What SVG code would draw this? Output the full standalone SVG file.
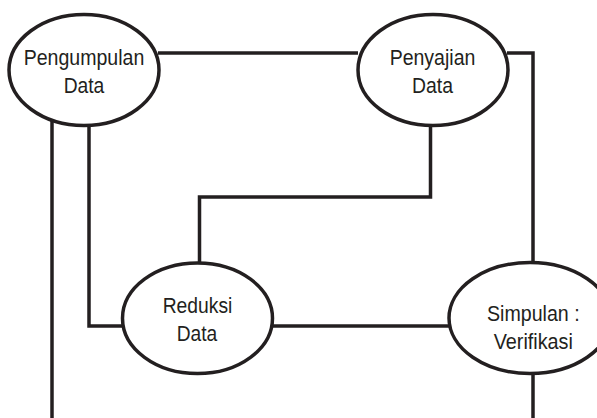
<svg xmlns="http://www.w3.org/2000/svg" width="597" height="418" viewBox="0 0 597 418">
<style>
.node ellipse{fill:#fff;stroke:#231f20;stroke-width:3.5}
.conn path{fill:none;stroke:#231f20;stroke-width:3.5;stroke-linejoin:miter}
text{font-family:"Liberation Sans",Arial,sans-serif;font-size:22px;fill:#231f20;text-anchor:middle}
</style>
<rect width="597" height="418" fill="#fff"/>
<g id="connectors" class="conn">
<path d="M158,53 H358"/>
<path d="M507,53 H533 V263"/>
<path d="M52,118 V418"/>
<path d="M89,124 V326 H123"/>
<path d="M430.5,124 V197 H199.5 V264"/>
<path d="M272,326 H450"/>
<path d="M533,372 V418"/>
</g>
<g id="pengumpulan" class="node">
<ellipse cx="84" cy="70" rx="75" ry="55.5"/>
<text x="84" y="65" textLength="120.7" lengthAdjust="spacingAndGlyphs">Pengumpulan</text>
<text x="84" y="92.5" textLength="40.7" lengthAdjust="spacingAndGlyphs">Data</text>
</g>
<g id="penyajian" class="node">
<ellipse cx="433" cy="70" rx="75" ry="55.5"/>
<text x="432.5" y="65" textLength="85.7" lengthAdjust="spacingAndGlyphs">Penyajian</text>
<text x="432.5" y="92.5" textLength="41" lengthAdjust="spacingAndGlyphs">Data</text>
</g>
<g id="reduksi" class="node">
<ellipse cx="197.5" cy="318.3" rx="75" ry="55.3"/>
<text x="197.5" y="313" textLength="69.7" lengthAdjust="spacingAndGlyphs">Reduksi</text>
<text x="197" y="341.3" textLength="40.6" lengthAdjust="spacingAndGlyphs">Data</text>
</g>
<g id="simpulan" class="node">
<ellipse cx="530" cy="318" rx="81" ry="55.5"/>
<text x="533.3" y="321.3" textLength="92.7" lengthAdjust="spacingAndGlyphs">Simpulan :</text>
<text x="533.3" y="348.7" textLength="79.3" lengthAdjust="spacingAndGlyphs">Verifikasi</text>
</g>
</svg>
